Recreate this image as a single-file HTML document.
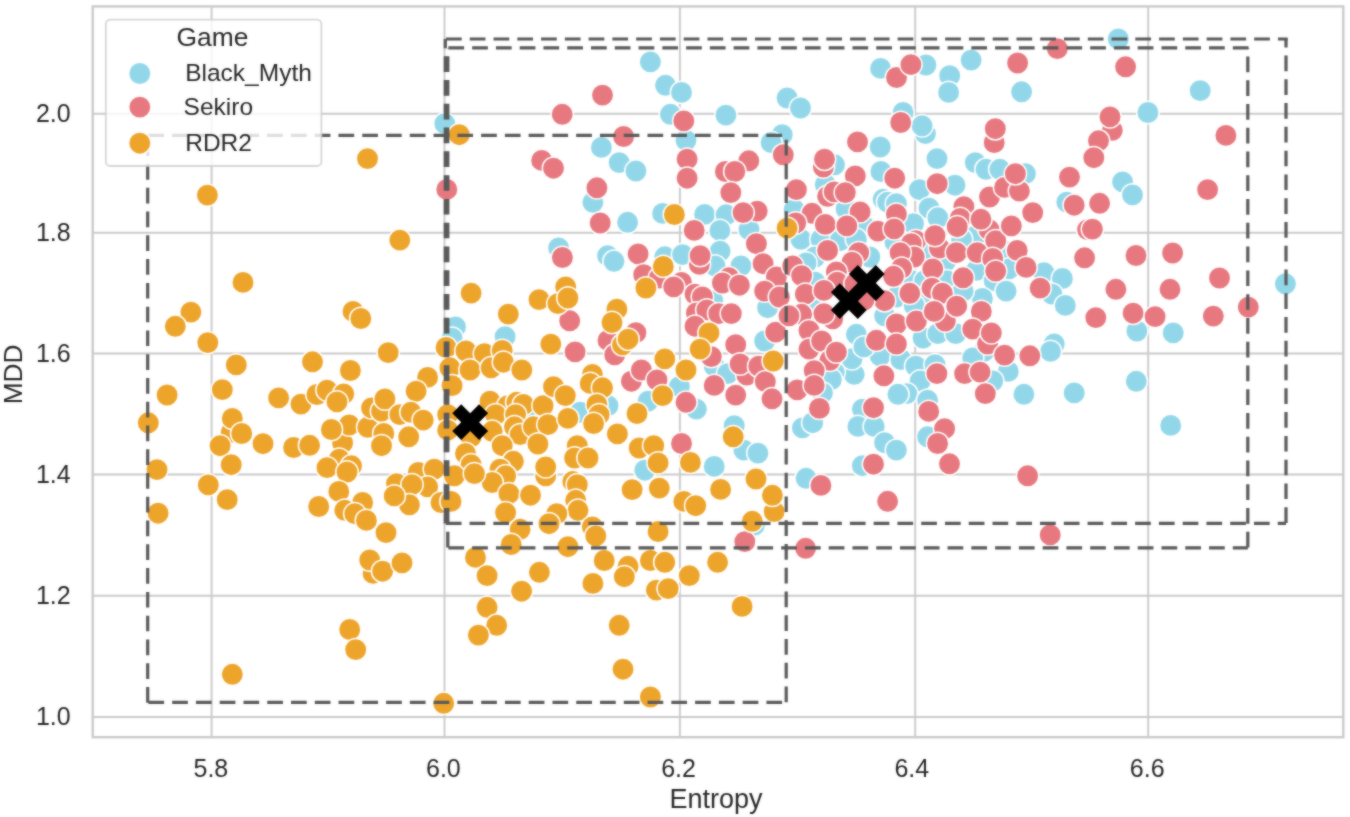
<!DOCTYPE html>
<html lang="en"><head><meta charset="utf-8"><title>Entropy vs MDD</title>
<style>html,body{margin:0;padding:0;background:#fff}svg{display:block}text{font-family:"Liberation Sans",sans-serif;fill:#262626}.p circle{stroke:#fff;stroke-width:1.5}.b{fill:#92d7e9}.r{fill:#e7787f}.o{fill:#eda42b}.d{fill:none;stroke:#595959;stroke-width:3.2;stroke-dasharray:15.7 8.07}.g line{stroke:#cacaca;stroke-width:1.9}.x{fill:#000}</style></head><body>
<svg width="1350" height="817" viewBox="0 0 1350 817">
<defs><filter id="soft" color-interpolation-filters="sRGB" x="0" y="0" width="100%" height="100%" filterUnits="objectBoundingBox"><feGaussianBlur stdDeviation="0.85" result="b"/><feComposite in="SourceGraphic" in2="b" operator="arithmetic" k1="0" k2="0.45" k3="0.55" k4="0"/></filter></defs>
<g filter="url(#soft)">
<rect width="1350" height="817" fill="#fff"/>
<g class="g">
<line x1="211.6" y1="6.4" x2="211.6" y2="737.2"/>
<line x1="444.5" y1="6.4" x2="444.5" y2="737.2"/>
<line x1="679.9" y1="6.4" x2="679.9" y2="737.2"/>
<line x1="915.2" y1="6.4" x2="915.2" y2="737.2"/>
<line x1="1148.2" y1="6.4" x2="1148.2" y2="737.2"/>
<line x1="92.7" y1="113.8" x2="1343.3" y2="113.8"/>
<line x1="92.7" y1="232.8" x2="1343.3" y2="232.8"/>
<line x1="92.7" y1="353.5" x2="1343.3" y2="353.5"/>
<line x1="92.7" y1="474.5" x2="1343.3" y2="474.5"/>
<line x1="92.7" y1="595.7" x2="1343.3" y2="595.7"/>
<line x1="92.7" y1="717.0" x2="1343.3" y2="717.0"/>
</g>
<g class="p">
<circle class="b" cx="444.8" cy="123.6" r="11.2"/>
<circle class="b" cx="650.4" cy="61.9" r="11.2"/>
<circle class="b" cx="665.5" cy="85.3" r="11.2"/>
<circle class="b" cx="681.5" cy="92.4" r="11.2"/>
<circle class="b" cx="670.4" cy="114.3" r="11.2"/>
<circle class="b" cx="601.4" cy="147.4" r="11.2"/>
<circle class="b" cx="619.2" cy="162.6" r="11.2"/>
<circle class="b" cx="635.9" cy="171.0" r="11.2"/>
<circle class="b" cx="686.0" cy="140.3" r="11.2"/>
<circle class="b" cx="592.9" cy="202.3" r="11.2"/>
<circle class="b" cx="627.6" cy="222.3" r="11.2"/>
<circle class="b" cx="662.6" cy="213.4" r="11.2"/>
<circle class="b" cx="558.6" cy="247.9" r="11.2"/>
<circle class="b" cx="607.6" cy="255.7" r="11.2"/>
<circle class="b" cx="614.0" cy="261.3" r="11.2"/>
<circle class="b" cx="664.8" cy="256.8" r="11.2"/>
<circle class="b" cx="682.6" cy="254.6" r="11.2"/>
<circle class="b" cx="455.5" cy="327.0" r="11.2"/>
<circle class="b" cx="452.1" cy="338.1" r="11.2"/>
<circle class="b" cx="505.1" cy="336.6" r="11.2"/>
<circle class="b" cx="529.0" cy="415.7" r="11.2"/>
<circle class="b" cx="580.2" cy="412.3" r="11.2"/>
<circle class="b" cx="608.0" cy="405.7" r="11.2"/>
<circle class="b" cx="648.1" cy="401.2" r="11.2"/>
<circle class="b" cx="644.8" cy="470.2" r="11.2"/>
<circle class="b" cx="679.3" cy="386.7" r="11.2"/>
<circle class="b" cx="725.9" cy="115.1" r="11.2"/>
<circle class="b" cx="787.1" cy="98.0" r="11.2"/>
<circle class="b" cx="800.5" cy="108.0" r="11.2"/>
<circle class="b" cx="880.6" cy="68.4" r="11.2"/>
<circle class="b" cx="925.9" cy="65.0" r="11.2"/>
<circle class="b" cx="949.7" cy="75.7" r="11.2"/>
<circle class="b" cx="948.6" cy="92.4" r="11.2"/>
<circle class="b" cx="971.1" cy="60.1" r="11.2"/>
<circle class="b" cx="903.1" cy="112.5" r="11.2"/>
<circle class="b" cx="925.4" cy="133.6" r="11.2"/>
<circle class="b" cx="922.1" cy="125.8" r="11.2"/>
<circle class="b" cx="880.2" cy="147.0" r="11.2"/>
<circle class="b" cx="782.2" cy="134.7" r="11.2"/>
<circle class="b" cx="771.1" cy="142.5" r="11.2"/>
<circle class="b" cx="834.5" cy="164.8" r="11.2"/>
<circle class="b" cx="880.9" cy="171.5" r="11.2"/>
<circle class="b" cx="937.0" cy="158.6" r="11.2"/>
<circle class="b" cx="975.3" cy="162.6" r="11.2"/>
<circle class="b" cx="986.0" cy="169.3" r="11.2"/>
<circle class="b" cx="704.6" cy="214.4" r="11.2"/>
<circle class="b" cx="726.1" cy="214.8" r="11.2"/>
<circle class="b" cx="719.9" cy="230.4" r="11.2"/>
<circle class="b" cx="749.0" cy="229.6" r="11.2"/>
<circle class="b" cx="720.1" cy="251.1" r="11.2"/>
<circle class="b" cx="715.0" cy="265.9" r="11.2"/>
<circle class="b" cx="740.9" cy="265.9" r="11.2"/>
<circle class="b" cx="794.2" cy="209.6" r="11.2"/>
<circle class="b" cx="800.9" cy="239.3" r="11.2"/>
<circle class="b" cx="820.9" cy="239.3" r="11.2"/>
<circle class="b" cx="810.5" cy="260.0" r="11.2"/>
<circle class="b" cx="815.0" cy="257.0" r="11.2"/>
<circle class="b" cx="806.1" cy="263.0" r="11.2"/>
<circle class="b" cx="825.3" cy="184.4" r="11.2"/>
<circle class="b" cx="846.1" cy="208.9" r="11.2"/>
<circle class="b" cx="883.1" cy="199.3" r="11.2"/>
<circle class="b" cx="887.6" cy="202.2" r="11.2"/>
<circle class="b" cx="863.9" cy="225.9" r="11.2"/>
<circle class="b" cx="840.1" cy="240.7" r="11.2"/>
<circle class="b" cx="856.4" cy="239.3" r="11.2"/>
<circle class="b" cx="869.8" cy="257.0" r="11.2"/>
<circle class="b" cx="815.0" cy="282.2" r="11.2"/>
<circle class="b" cx="712.7" cy="300.7" r="11.2"/>
<circle class="b" cx="919.4" cy="189.6" r="11.2"/>
<circle class="b" cx="955.0" cy="185.2" r="11.2"/>
<circle class="b" cx="929.0" cy="208.1" r="11.2"/>
<circle class="b" cx="937.9" cy="217.8" r="11.2"/>
<circle class="b" cx="913.5" cy="223.7" r="11.2"/>
<circle class="b" cx="896.4" cy="203.7" r="11.2"/>
<circle class="b" cx="895.0" cy="242.2" r="11.2"/>
<circle class="b" cx="975.0" cy="236.3" r="11.2"/>
<circle class="b" cx="961.6" cy="239.3" r="11.2"/>
<circle class="b" cx="927.6" cy="252.6" r="11.2"/>
<circle class="b" cx="945.3" cy="261.5" r="11.2"/>
<circle class="b" cx="976.4" cy="270.4" r="11.2"/>
<circle class="b" cx="1004.6" cy="251.1" r="11.2"/>
<circle class="b" cx="1009.0" cy="268.9" r="11.2"/>
<circle class="b" cx="994.2" cy="280.7" r="11.2"/>
<circle class="b" cx="1006.1" cy="291.1" r="11.2"/>
<circle class="b" cx="1043.9" cy="272.6" r="11.2"/>
<circle class="b" cx="1062.4" cy="278.5" r="11.2"/>
<circle class="b" cx="1052.0" cy="294.1" r="11.2"/>
<circle class="b" cx="982.4" cy="298.5" r="11.2"/>
<circle class="b" cx="911.3" cy="280.7" r="11.2"/>
<circle class="b" cx="924.6" cy="280.7" r="11.2"/>
<circle class="b" cx="946.8" cy="280.7" r="11.2"/>
<circle class="b" cx="963.1" cy="291.1" r="11.2"/>
<circle class="b" cx="1066.8" cy="202.2" r="11.2"/>
<circle class="b" cx="896.4" cy="297.0" r="11.2"/>
<circle class="b" cx="921.6" cy="298.5" r="11.2"/>
<circle class="b" cx="767.6" cy="307.7" r="11.2"/>
<circle class="b" cx="764.6" cy="341.0" r="11.2"/>
<circle class="b" cx="714.2" cy="366.2" r="11.2"/>
<circle class="b" cx="727.6" cy="373.6" r="11.2"/>
<circle class="b" cx="696.4" cy="409.1" r="11.2"/>
<circle class="b" cx="856.4" cy="334.3" r="11.2"/>
<circle class="b" cx="854.2" cy="374.3" r="11.2"/>
<circle class="b" cx="834.2" cy="372.1" r="11.2"/>
<circle class="b" cx="831.3" cy="379.5" r="11.2"/>
<circle class="b" cx="852.0" cy="358.8" r="11.2"/>
<circle class="b" cx="880.1" cy="355.8" r="11.2"/>
<circle class="b" cx="863.9" cy="346.9" r="11.2"/>
<circle class="b" cx="884.6" cy="315.8" r="11.2"/>
<circle class="b" cx="822.4" cy="392.9" r="11.2"/>
<circle class="b" cx="862.4" cy="409.1" r="11.2"/>
<circle class="b" cx="813.5" cy="309.9" r="11.2"/>
<circle class="b" cx="1065.3" cy="305.4" r="11.2"/>
<circle class="b" cx="914.2" cy="305.4" r="11.2"/>
<circle class="b" cx="923.1" cy="338.0" r="11.2"/>
<circle class="b" cx="937.9" cy="333.6" r="11.2"/>
<circle class="b" cx="955.7" cy="333.6" r="11.2"/>
<circle class="b" cx="900.9" cy="359.5" r="11.2"/>
<circle class="b" cx="915.7" cy="366.2" r="11.2"/>
<circle class="b" cx="935.0" cy="364.7" r="11.2"/>
<circle class="b" cx="920.1" cy="381.0" r="11.2"/>
<circle class="b" cx="906.8" cy="393.6" r="11.2"/>
<circle class="b" cx="897.9" cy="394.3" r="11.2"/>
<circle class="b" cx="927.6" cy="400.3" r="11.2"/>
<circle class="b" cx="983.9" cy="351.4" r="11.2"/>
<circle class="b" cx="972.7" cy="358.0" r="11.2"/>
<circle class="b" cx="1008.3" cy="371.4" r="11.2"/>
<circle class="b" cx="1054.2" cy="344.0" r="11.2"/>
<circle class="b" cx="1050.5" cy="351.4" r="11.2"/>
<circle class="b" cx="1023.9" cy="394.3" r="11.2"/>
<circle class="b" cx="1074.2" cy="392.9" r="11.2"/>
<circle class="b" cx="992.7" cy="381.0" r="11.2"/>
<circle class="b" cx="734.2" cy="425.7" r="11.2"/>
<circle class="b" cx="743.9" cy="450.1" r="11.2"/>
<circle class="b" cx="757.9" cy="453.1" r="11.2"/>
<circle class="b" cx="714.2" cy="466.4" r="11.2"/>
<circle class="b" cx="802.4" cy="427.9" r="11.2"/>
<circle class="b" cx="812.7" cy="422.7" r="11.2"/>
<circle class="b" cx="857.9" cy="426.4" r="11.2"/>
<circle class="b" cx="874.2" cy="426.4" r="11.2"/>
<circle class="b" cx="884.6" cy="442.7" r="11.2"/>
<circle class="b" cx="862.4" cy="465.7" r="11.2"/>
<circle class="b" cx="806.1" cy="478.3" r="11.2"/>
<circle class="b" cx="754.2" cy="525.4" r="11.2"/>
<circle class="b" cx="896.4" cy="450.1" r="11.2"/>
<circle class="b" cx="927.6" cy="436.8" r="11.2"/>
<circle class="b" cx="1118.3" cy="39.0" r="11.2"/>
<circle class="b" cx="1021.6" cy="91.8" r="11.2"/>
<circle class="b" cx="1200.2" cy="90.6" r="11.2"/>
<circle class="b" cx="1147.9" cy="112.5" r="11.2"/>
<circle class="b" cx="999.8" cy="169.3" r="11.2"/>
<circle class="b" cx="1025.4" cy="173.7" r="11.2"/>
<circle class="b" cx="1122.6" cy="181.9" r="11.2"/>
<circle class="b" cx="1132.5" cy="194.9" r="11.2"/>
<circle class="b" cx="1285.4" cy="283.8" r="11.2"/>
<circle class="b" cx="1136.9" cy="331.0" r="11.2"/>
<circle class="b" cx="1173.2" cy="332.9" r="11.2"/>
<circle class="b" cx="1136.3" cy="381.3" r="11.2"/>
<circle class="b" cx="1170.7" cy="425.4" r="11.2"/>
<circle class="r" cx="562.2" cy="114.3" r="11.2"/>
<circle class="r" cx="602.5" cy="95.1" r="11.2"/>
<circle class="r" cx="683.8" cy="120.9" r="11.2"/>
<circle class="r" cx="623.6" cy="136.5" r="11.2"/>
<circle class="r" cx="541.7" cy="160.4" r="11.2"/>
<circle class="r" cx="553.5" cy="168.2" r="11.2"/>
<circle class="r" cx="687.1" cy="159.2" r="11.2"/>
<circle class="r" cx="687.1" cy="178.2" r="11.2"/>
<circle class="r" cx="446.8" cy="189.4" r="11.2"/>
<circle class="r" cx="596.9" cy="187.8" r="11.2"/>
<circle class="r" cx="600.2" cy="223.0" r="11.2"/>
<circle class="r" cx="562.4" cy="257.5" r="11.2"/>
<circle class="r" cx="638.1" cy="253.9" r="11.2"/>
<circle class="r" cx="643.7" cy="274.7" r="11.2"/>
<circle class="r" cx="659.3" cy="278.0" r="11.2"/>
<circle class="r" cx="681.5" cy="282.4" r="11.2"/>
<circle class="r" cx="673.7" cy="286.9" r="11.2"/>
<circle class="r" cx="569.7" cy="320.8" r="11.2"/>
<circle class="r" cx="635.9" cy="332.6" r="11.2"/>
<circle class="r" cx="608.0" cy="340.4" r="11.2"/>
<circle class="r" cx="614.7" cy="354.8" r="11.2"/>
<circle class="r" cx="575.1" cy="351.9" r="11.2"/>
<circle class="r" cx="631.4" cy="381.2" r="11.2"/>
<circle class="r" cx="641.4" cy="370.0" r="11.2"/>
<circle class="r" cx="657.0" cy="380.0" r="11.2"/>
<circle class="r" cx="686.0" cy="402.3" r="11.2"/>
<circle class="r" cx="681.5" cy="443.5" r="11.2"/>
<circle class="r" cx="896.5" cy="77.5" r="11.2"/>
<circle class="r" cx="910.9" cy="64.6" r="11.2"/>
<circle class="r" cx="900.7" cy="122.5" r="11.2"/>
<circle class="r" cx="857.5" cy="141.9" r="11.2"/>
<circle class="r" cx="783.3" cy="154.8" r="11.2"/>
<circle class="r" cx="748.8" cy="160.8" r="11.2"/>
<circle class="r" cx="725.4" cy="171.5" r="11.2"/>
<circle class="r" cx="734.8" cy="171.5" r="11.2"/>
<circle class="r" cx="823.4" cy="167.0" r="11.2"/>
<circle class="r" cx="824.5" cy="159.2" r="11.2"/>
<circle class="r" cx="855.3" cy="175.9" r="11.2"/>
<circle class="r" cx="894.7" cy="178.2" r="11.2"/>
<circle class="r" cx="730.8" cy="192.6" r="11.2"/>
<circle class="r" cx="757.2" cy="211.1" r="11.2"/>
<circle class="r" cx="743.1" cy="212.6" r="11.2"/>
<circle class="r" cx="694.2" cy="230.4" r="11.2"/>
<circle class="r" cx="756.4" cy="243.7" r="11.2"/>
<circle class="r" cx="699.4" cy="264.4" r="11.2"/>
<circle class="r" cx="700.1" cy="255.6" r="11.2"/>
<circle class="r" cx="763.1" cy="263.7" r="11.2"/>
<circle class="r" cx="776.4" cy="277.0" r="11.2"/>
<circle class="r" cx="729.0" cy="277.8" r="11.2"/>
<circle class="r" cx="722.4" cy="283.0" r="11.2"/>
<circle class="r" cx="739.4" cy="285.2" r="11.2"/>
<circle class="r" cx="695.0" cy="294.1" r="11.2"/>
<circle class="r" cx="702.4" cy="297.0" r="11.2"/>
<circle class="r" cx="764.6" cy="291.1" r="11.2"/>
<circle class="r" cx="779.4" cy="297.0" r="11.2"/>
<circle class="r" cx="796.4" cy="189.6" r="11.2"/>
<circle class="r" cx="812.0" cy="213.3" r="11.2"/>
<circle class="r" cx="795.7" cy="223.0" r="11.2"/>
<circle class="r" cx="825.3" cy="224.4" r="11.2"/>
<circle class="r" cx="827.6" cy="196.3" r="11.2"/>
<circle class="r" cx="834.2" cy="191.9" r="11.2"/>
<circle class="r" cx="845.3" cy="192.6" r="11.2"/>
<circle class="r" cx="860.1" cy="211.9" r="11.2"/>
<circle class="r" cx="846.8" cy="225.9" r="11.2"/>
<circle class="r" cx="877.9" cy="231.1" r="11.2"/>
<circle class="r" cx="827.6" cy="250.4" r="11.2"/>
<circle class="r" cx="858.7" cy="252.6" r="11.2"/>
<circle class="r" cx="852.0" cy="262.2" r="11.2"/>
<circle class="r" cx="792.7" cy="265.9" r="11.2"/>
<circle class="r" cx="801.6" cy="275.6" r="11.2"/>
<circle class="r" cx="836.4" cy="271.9" r="11.2"/>
<circle class="r" cx="837.2" cy="282.2" r="11.2"/>
<circle class="r" cx="805.3" cy="294.1" r="11.2"/>
<circle class="r" cx="823.9" cy="290.4" r="11.2"/>
<circle class="r" cx="884.6" cy="300.7" r="11.2"/>
<circle class="r" cx="855.0" cy="283.7" r="11.2"/>
<circle class="r" cx="937.2" cy="183.7" r="11.2"/>
<circle class="r" cx="963.9" cy="206.7" r="11.2"/>
<circle class="r" cx="960.1" cy="218.5" r="11.2"/>
<circle class="r" cx="957.2" cy="226.7" r="11.2"/>
<circle class="r" cx="989.0" cy="229.6" r="11.2"/>
<circle class="r" cx="995.7" cy="240.7" r="11.2"/>
<circle class="r" cx="980.9" cy="219.3" r="11.2"/>
<circle class="r" cx="1011.3" cy="225.9" r="11.2"/>
<circle class="r" cx="1032.7" cy="212.6" r="11.2"/>
<circle class="r" cx="989.5" cy="197.0" r="11.2"/>
<circle class="r" cx="1004.6" cy="187.4" r="11.2"/>
<circle class="r" cx="1019.4" cy="191.1" r="11.2"/>
<circle class="r" cx="1074.2" cy="205.2" r="11.2"/>
<circle class="r" cx="1087.6" cy="229.6" r="11.2"/>
<circle class="r" cx="1084.6" cy="257.8" r="11.2"/>
<circle class="r" cx="896.4" cy="214.1" r="11.2"/>
<circle class="r" cx="894.2" cy="228.9" r="11.2"/>
<circle class="r" cx="915.7" cy="240.7" r="11.2"/>
<circle class="r" cx="911.3" cy="243.7" r="11.2"/>
<circle class="r" cx="939.4" cy="248.1" r="11.2"/>
<circle class="r" cx="935.0" cy="235.6" r="11.2"/>
<circle class="r" cx="914.2" cy="257.0" r="11.2"/>
<circle class="r" cx="900.1" cy="252.6" r="11.2"/>
<circle class="r" cx="901.6" cy="268.1" r="11.2"/>
<circle class="r" cx="893.5" cy="276.3" r="11.2"/>
<circle class="r" cx="956.4" cy="252.6" r="11.2"/>
<circle class="r" cx="977.2" cy="252.6" r="11.2"/>
<circle class="r" cx="1017.2" cy="250.4" r="11.2"/>
<circle class="r" cx="1026.1" cy="267.4" r="11.2"/>
<circle class="r" cx="992.7" cy="258.5" r="11.2"/>
<circle class="r" cx="995.7" cy="271.1" r="11.2"/>
<circle class="r" cx="932.7" cy="268.9" r="11.2"/>
<circle class="r" cx="963.1" cy="277.8" r="11.2"/>
<circle class="r" cx="1040.1" cy="288.1" r="11.2"/>
<circle class="r" cx="909.8" cy="293.3" r="11.2"/>
<circle class="r" cx="932.0" cy="288.1" r="11.2"/>
<circle class="r" cx="942.4" cy="293.3" r="11.2"/>
<circle class="r" cx="696.4" cy="312.9" r="11.2"/>
<circle class="r" cx="706.8" cy="309.9" r="11.2"/>
<circle class="r" cx="718.7" cy="313.6" r="11.2"/>
<circle class="r" cx="731.3" cy="313.6" r="11.2"/>
<circle class="r" cx="695.0" cy="326.2" r="11.2"/>
<circle class="r" cx="735.7" cy="344.7" r="11.2"/>
<circle class="r" cx="711.3" cy="356.6" r="11.2"/>
<circle class="r" cx="746.8" cy="375.1" r="11.2"/>
<circle class="r" cx="740.1" cy="364.0" r="11.2"/>
<circle class="r" cx="758.7" cy="366.2" r="11.2"/>
<circle class="r" cx="765.3" cy="381.7" r="11.2"/>
<circle class="r" cx="714.2" cy="385.4" r="11.2"/>
<circle class="r" cx="735.7" cy="395.1" r="11.2"/>
<circle class="r" cx="772.0" cy="398.8" r="11.2"/>
<circle class="r" cx="775.7" cy="332.1" r="11.2"/>
<circle class="r" cx="801.6" cy="314.3" r="11.2"/>
<circle class="r" cx="789.0" cy="315.8" r="11.2"/>
<circle class="r" cx="832.7" cy="318.8" r="11.2"/>
<circle class="r" cx="823.9" cy="313.6" r="11.2"/>
<circle class="r" cx="809.0" cy="330.6" r="11.2"/>
<circle class="r" cx="809.0" cy="349.1" r="11.2"/>
<circle class="r" cx="821.6" cy="341.0" r="11.2"/>
<circle class="r" cx="829.8" cy="360.3" r="11.2"/>
<circle class="r" cx="836.4" cy="352.1" r="11.2"/>
<circle class="r" cx="814.2" cy="370.6" r="11.2"/>
<circle class="r" cx="797.2" cy="389.9" r="11.2"/>
<circle class="r" cx="814.2" cy="385.4" r="11.2"/>
<circle class="r" cx="819.4" cy="408.4" r="11.2"/>
<circle class="r" cx="876.4" cy="340.3" r="11.2"/>
<circle class="r" cx="883.9" cy="375.8" r="11.2"/>
<circle class="r" cx="873.5" cy="407.7" r="11.2"/>
<circle class="r" cx="896.4" cy="324.0" r="11.2"/>
<circle class="r" cx="916.4" cy="321.0" r="11.2"/>
<circle class="r" cx="945.3" cy="321.0" r="11.2"/>
<circle class="r" cx="934.2" cy="311.4" r="11.2"/>
<circle class="r" cx="956.7" cy="306.2" r="11.2"/>
<circle class="r" cx="981.3" cy="311.4" r="11.2"/>
<circle class="r" cx="972.7" cy="329.1" r="11.2"/>
<circle class="r" cx="987.6" cy="344.0" r="11.2"/>
<circle class="r" cx="991.3" cy="332.9" r="11.2"/>
<circle class="r" cx="1004.6" cy="355.1" r="11.2"/>
<circle class="r" cx="1029.8" cy="355.8" r="11.2"/>
<circle class="r" cx="896.4" cy="344.0" r="11.2"/>
<circle class="r" cx="936.9" cy="373.6" r="11.2"/>
<circle class="r" cx="964.6" cy="373.6" r="11.2"/>
<circle class="r" cx="980.1" cy="372.1" r="11.2"/>
<circle class="r" cx="985.3" cy="393.6" r="11.2"/>
<circle class="r" cx="928.7" cy="411.4" r="11.2"/>
<circle class="r" cx="873.5" cy="464.2" r="11.2"/>
<circle class="r" cx="820.9" cy="485.4" r="11.2"/>
<circle class="r" cx="887.6" cy="501.3" r="11.2"/>
<circle class="r" cx="944.6" cy="428.7" r="11.2"/>
<circle class="r" cx="937.6" cy="443.5" r="11.2"/>
<circle class="r" cx="949.5" cy="463.8" r="11.2"/>
<circle class="r" cx="1027.6" cy="475.8" r="11.2"/>
<circle class="r" cx="1050.2" cy="534.9" r="11.2"/>
<circle class="r" cx="1017.6" cy="63.0" r="11.2"/>
<circle class="r" cx="1057.3" cy="48.6" r="11.2"/>
<circle class="r" cx="1125.6" cy="66.8" r="11.2"/>
<circle class="r" cx="1112.3" cy="130.3" r="11.2"/>
<circle class="r" cx="1110.0" cy="116.9" r="11.2"/>
<circle class="r" cx="1098.5" cy="140.8" r="11.2"/>
<circle class="r" cx="1093.8" cy="157.7" r="11.2"/>
<circle class="r" cx="1225.9" cy="135.4" r="11.2"/>
<circle class="r" cx="994.2" cy="142.5" r="11.2"/>
<circle class="r" cx="995.3" cy="128.7" r="11.2"/>
<circle class="r" cx="1015.4" cy="173.7" r="11.2"/>
<circle class="r" cx="1069.5" cy="177.1" r="11.2"/>
<circle class="r" cx="1207.6" cy="189.6" r="11.2"/>
<circle class="r" cx="1099.6" cy="203.3" r="11.2"/>
<circle class="r" cx="1136.0" cy="255.5" r="11.2"/>
<circle class="r" cx="1172.6" cy="253.0" r="11.2"/>
<circle class="r" cx="1219.5" cy="278.0" r="11.2"/>
<circle class="r" cx="1115.9" cy="289.3" r="11.2"/>
<circle class="r" cx="1170.0" cy="289.3" r="11.2"/>
<circle class="r" cx="1133.1" cy="313.2" r="11.2"/>
<circle class="r" cx="1155.1" cy="316.6" r="11.2"/>
<circle class="r" cx="1095.8" cy="317.6" r="11.2"/>
<circle class="r" cx="1213.3" cy="316.1" r="11.2"/>
<circle class="r" cx="1248.3" cy="307.1" r="11.2"/>
<circle class="r" cx="1092.4" cy="229.1" r="11.2"/>
<circle class="r" cx="744.8" cy="541.6" r="11.2"/>
<circle class="r" cx="863.9" cy="300.2" r="11.2"/>
<circle class="r" cx="805.6" cy="548.3" r="11.2"/>
<circle class="o" cx="367.5" cy="158.6" r="11.2"/>
<circle class="o" cx="207.4" cy="195.1" r="11.2"/>
<circle class="o" cx="243.0" cy="282.4" r="11.2"/>
<circle class="o" cx="190.9" cy="312.1" r="11.2"/>
<circle class="o" cx="175.3" cy="326.3" r="11.2"/>
<circle class="o" cx="207.8" cy="342.6" r="11.2"/>
<circle class="o" cx="353.0" cy="311.4" r="11.2"/>
<circle class="o" cx="360.8" cy="318.5" r="11.2"/>
<circle class="o" cx="388.2" cy="352.6" r="11.2"/>
<circle class="o" cx="236.3" cy="364.9" r="11.2"/>
<circle class="o" cx="312.5" cy="361.8" r="11.2"/>
<circle class="o" cx="350.4" cy="370.5" r="11.2"/>
<circle class="o" cx="167.1" cy="395.0" r="11.2"/>
<circle class="o" cx="222.3" cy="389.6" r="11.2"/>
<circle class="o" cx="278.6" cy="397.9" r="11.2"/>
<circle class="o" cx="300.9" cy="404.1" r="11.2"/>
<circle class="o" cx="316.9" cy="394.5" r="11.2"/>
<circle class="o" cx="327.0" cy="390.1" r="11.2"/>
<circle class="o" cx="343.7" cy="393.9" r="11.2"/>
<circle class="o" cx="337.0" cy="401.9" r="11.2"/>
<circle class="o" cx="148.3" cy="422.8" r="11.2"/>
<circle class="o" cx="231.2" cy="432.4" r="11.2"/>
<circle class="o" cx="232.3" cy="418.4" r="11.2"/>
<circle class="o" cx="241.7" cy="433.5" r="11.2"/>
<circle class="o" cx="220.1" cy="445.7" r="11.2"/>
<circle class="o" cx="263.0" cy="443.7" r="11.2"/>
<circle class="o" cx="293.6" cy="447.5" r="11.2"/>
<circle class="o" cx="309.6" cy="445.3" r="11.2"/>
<circle class="o" cx="342.6" cy="442.9" r="11.2"/>
<circle class="o" cx="349.2" cy="425.0" r="11.2"/>
<circle class="o" cx="331.4" cy="429.5" r="11.2"/>
<circle class="o" cx="367.7" cy="427.3" r="11.2"/>
<circle class="o" cx="371.5" cy="407.9" r="11.2"/>
<circle class="o" cx="381.5" cy="411.2" r="11.2"/>
<circle class="o" cx="384.9" cy="399.0" r="11.2"/>
<circle class="o" cx="383.8" cy="433.5" r="11.2"/>
<circle class="o" cx="381.5" cy="445.7" r="11.2"/>
<circle class="o" cx="231.2" cy="464.7" r="11.2"/>
<circle class="o" cx="157.0" cy="469.6" r="11.2"/>
<circle class="o" cx="339.2" cy="459.1" r="11.2"/>
<circle class="o" cx="351.5" cy="465.8" r="11.2"/>
<circle class="o" cx="327.0" cy="467.6" r="11.2"/>
<circle class="o" cx="347.0" cy="472.0" r="11.2"/>
<circle class="o" cx="208.3" cy="484.9" r="11.2"/>
<circle class="o" cx="227.2" cy="499.6" r="11.2"/>
<circle class="o" cx="158.1" cy="513.2" r="11.2"/>
<circle class="o" cx="318.7" cy="506.5" r="11.2"/>
<circle class="o" cx="362.6" cy="502.5" r="11.2"/>
<circle class="o" cx="338.8" cy="491.4" r="11.2"/>
<circle class="o" cx="344.8" cy="510.3" r="11.2"/>
<circle class="o" cx="354.8" cy="513.7" r="11.2"/>
<circle class="o" cx="366.4" cy="520.4" r="11.2"/>
<circle class="o" cx="386.0" cy="532.6" r="11.2"/>
<circle class="o" cx="232.3" cy="674.3" r="11.2"/>
<circle class="o" cx="349.7" cy="629.5" r="11.2"/>
<circle class="o" cx="355.7" cy="649.6" r="11.2"/>
<circle class="o" cx="373.1" cy="573.4" r="11.2"/>
<circle class="o" cx="369.7" cy="560.0" r="11.2"/>
<circle class="o" cx="382.6" cy="571.2" r="11.2"/>
<circle class="o" cx="459.3" cy="134.7" r="11.2"/>
<circle class="o" cx="674.4" cy="214.5" r="11.2"/>
<circle class="o" cx="399.8" cy="240.1" r="11.2"/>
<circle class="o" cx="663.3" cy="266.4" r="11.2"/>
<circle class="o" cx="645.9" cy="288.0" r="11.2"/>
<circle class="o" cx="471.1" cy="293.1" r="11.2"/>
<circle class="o" cx="539.0" cy="299.6" r="11.2"/>
<circle class="o" cx="565.7" cy="286.9" r="11.2"/>
<circle class="o" cx="557.9" cy="303.6" r="11.2"/>
<circle class="o" cx="567.9" cy="298.0" r="11.2"/>
<circle class="o" cx="508.3" cy="314.1" r="11.2"/>
<circle class="o" cx="616.9" cy="309.2" r="11.2"/>
<circle class="o" cx="612.0" cy="322.5" r="11.2"/>
<circle class="o" cx="622.5" cy="344.8" r="11.2"/>
<circle class="o" cx="628.1" cy="339.2" r="11.2"/>
<circle class="o" cx="446.1" cy="347.5" r="11.2"/>
<circle class="o" cx="465.9" cy="351.0" r="11.2"/>
<circle class="o" cx="484.4" cy="353.7" r="11.2"/>
<circle class="o" cx="502.2" cy="350.4" r="11.2"/>
<circle class="o" cx="550.8" cy="344.1" r="11.2"/>
<circle class="o" cx="449.9" cy="367.8" r="11.2"/>
<circle class="o" cx="470.0" cy="370.0" r="11.2"/>
<circle class="o" cx="491.1" cy="367.8" r="11.2"/>
<circle class="o" cx="503.4" cy="362.2" r="11.2"/>
<circle class="o" cx="521.8" cy="370.0" r="11.2"/>
<circle class="o" cx="427.6" cy="377.4" r="11.2"/>
<circle class="o" cx="416.1" cy="391.2" r="11.2"/>
<circle class="o" cx="452.1" cy="385.6" r="11.2"/>
<circle class="o" cx="399.8" cy="414.6" r="11.2"/>
<circle class="o" cx="410.9" cy="412.3" r="11.2"/>
<circle class="o" cx="423.2" cy="420.1" r="11.2"/>
<circle class="o" cx="408.7" cy="436.8" r="11.2"/>
<circle class="o" cx="490.0" cy="401.2" r="11.2"/>
<circle class="o" cx="507.8" cy="405.7" r="11.2"/>
<circle class="o" cx="516.7" cy="402.3" r="11.2"/>
<circle class="o" cx="523.4" cy="404.5" r="11.2"/>
<circle class="o" cx="495.6" cy="414.6" r="11.2"/>
<circle class="o" cx="515.6" cy="414.6" r="11.2"/>
<circle class="o" cx="492.2" cy="431.3" r="11.2"/>
<circle class="o" cx="514.5" cy="426.8" r="11.2"/>
<circle class="o" cx="520.1" cy="434.6" r="11.2"/>
<circle class="o" cx="533.4" cy="426.8" r="11.2"/>
<circle class="o" cx="447.7" cy="414.6" r="11.2"/>
<circle class="o" cx="447.7" cy="430.2" r="11.2"/>
<circle class="o" cx="471.1" cy="436.8" r="11.2"/>
<circle class="o" cx="543.0" cy="405.7" r="11.2"/>
<circle class="o" cx="553.5" cy="386.7" r="11.2"/>
<circle class="o" cx="565.3" cy="395.6" r="11.2"/>
<circle class="o" cx="547.9" cy="424.6" r="11.2"/>
<circle class="o" cx="567.9" cy="418.4" r="11.2"/>
<circle class="o" cx="537.9" cy="444.0" r="11.2"/>
<circle class="o" cx="592.4" cy="374.5" r="11.2"/>
<circle class="o" cx="590.2" cy="383.4" r="11.2"/>
<circle class="o" cx="602.5" cy="387.8" r="11.2"/>
<circle class="o" cx="596.9" cy="404.5" r="11.2"/>
<circle class="o" cx="599.1" cy="414.6" r="11.2"/>
<circle class="o" cx="593.6" cy="423.5" r="11.2"/>
<circle class="o" cx="617.4" cy="433.9" r="11.2"/>
<circle class="o" cx="637.0" cy="413.5" r="11.2"/>
<circle class="o" cx="664.8" cy="358.9" r="11.2"/>
<circle class="o" cx="686.0" cy="370.0" r="11.2"/>
<circle class="o" cx="662.6" cy="395.6" r="11.2"/>
<circle class="o" cx="639.2" cy="448.0" r="11.2"/>
<circle class="o" cx="653.7" cy="445.7" r="11.2"/>
<circle class="o" cx="658.1" cy="462.9" r="11.2"/>
<circle class="o" cx="690.4" cy="462.4" r="11.2"/>
<circle class="o" cx="502.2" cy="445.7" r="11.2"/>
<circle class="o" cx="465.5" cy="453.5" r="11.2"/>
<circle class="o" cx="471.1" cy="464.7" r="11.2"/>
<circle class="o" cx="513.4" cy="461.3" r="11.2"/>
<circle class="o" cx="500.0" cy="469.1" r="11.2"/>
<circle class="o" cx="505.6" cy="475.8" r="11.2"/>
<circle class="o" cx="492.2" cy="482.5" r="11.2"/>
<circle class="o" cx="454.4" cy="475.8" r="11.2"/>
<circle class="o" cx="474.4" cy="473.6" r="11.2"/>
<circle class="o" cx="577.3" cy="445.7" r="11.2"/>
<circle class="o" cx="574.6" cy="458.0" r="11.2"/>
<circle class="o" cx="588.0" cy="458.0" r="11.2"/>
<circle class="o" cx="545.7" cy="475.8" r="11.2"/>
<circle class="o" cx="545.7" cy="466.9" r="11.2"/>
<circle class="o" cx="418.3" cy="472.5" r="11.2"/>
<circle class="o" cx="434.3" cy="469.1" r="11.2"/>
<circle class="o" cx="427.6" cy="486.9" r="11.2"/>
<circle class="o" cx="396.5" cy="483.6" r="11.2"/>
<circle class="o" cx="412.0" cy="484.7" r="11.2"/>
<circle class="o" cx="409.4" cy="504.8" r="11.2"/>
<circle class="o" cx="394.2" cy="495.9" r="11.2"/>
<circle class="o" cx="441.0" cy="502.5" r="11.2"/>
<circle class="o" cx="451.0" cy="501.4" r="11.2"/>
<circle class="o" cx="508.9" cy="493.6" r="11.2"/>
<circle class="o" cx="530.5" cy="495.2" r="11.2"/>
<circle class="o" cx="505.6" cy="512.6" r="11.2"/>
<circle class="o" cx="572.8" cy="481.4" r="11.2"/>
<circle class="o" cx="577.3" cy="484.7" r="11.2"/>
<circle class="o" cx="575.7" cy="500.3" r="11.2"/>
<circle class="o" cx="578.0" cy="510.3" r="11.2"/>
<circle class="o" cx="556.8" cy="513.7" r="11.2"/>
<circle class="o" cx="549.0" cy="523.7" r="11.2"/>
<circle class="o" cx="520.1" cy="529.3" r="11.2"/>
<circle class="o" cx="632.1" cy="489.6" r="11.2"/>
<circle class="o" cx="659.3" cy="488.1" r="11.2"/>
<circle class="o" cx="683.8" cy="501.4" r="11.2"/>
<circle class="o" cx="592.4" cy="527.0" r="11.2"/>
<circle class="o" cx="595.8" cy="535.9" r="11.2"/>
<circle class="o" cx="658.1" cy="531.5" r="11.2"/>
<circle class="o" cx="402.0" cy="562.9" r="11.2"/>
<circle class="o" cx="475.5" cy="557.4" r="11.2"/>
<circle class="o" cx="487.1" cy="575.6" r="11.2"/>
<circle class="o" cx="511.2" cy="544.5" r="11.2"/>
<circle class="o" cx="567.9" cy="546.7" r="11.2"/>
<circle class="o" cx="539.4" cy="572.3" r="11.2"/>
<circle class="o" cx="521.6" cy="591.2" r="11.2"/>
<circle class="o" cx="604.2" cy="560.5" r="11.2"/>
<circle class="o" cx="592.9" cy="583.4" r="11.2"/>
<circle class="o" cx="628.1" cy="566.3" r="11.2"/>
<circle class="o" cx="624.3" cy="576.7" r="11.2"/>
<circle class="o" cx="650.4" cy="560.5" r="11.2"/>
<circle class="o" cx="664.8" cy="562.3" r="11.2"/>
<circle class="o" cx="656.4" cy="590.1" r="11.2"/>
<circle class="o" cx="668.2" cy="588.6" r="11.2"/>
<circle class="o" cx="689.3" cy="575.6" r="11.2"/>
<circle class="o" cx="487.1" cy="607.3" r="11.2"/>
<circle class="o" cx="496.7" cy="625.3" r="11.2"/>
<circle class="o" cx="478.4" cy="635.1" r="11.2"/>
<circle class="o" cx="619.2" cy="625.3" r="11.2"/>
<circle class="o" cx="623.0" cy="669.2" r="11.2"/>
<circle class="o" cx="650.4" cy="697.0" r="11.2"/>
<circle class="o" cx="443.7" cy="703.3" r="11.2"/>
<circle class="o" cx="787.1" cy="228.1" r="11.2"/>
<circle class="o" cx="709.0" cy="332.9" r="11.2"/>
<circle class="o" cx="700.1" cy="349.1" r="11.2"/>
<circle class="o" cx="773.2" cy="361.0" r="11.2"/>
<circle class="o" cx="733.2" cy="436.8" r="11.2"/>
<circle class="o" cx="756.0" cy="479.0" r="11.2"/>
<circle class="o" cx="720.6" cy="489.4" r="11.2"/>
<circle class="o" cx="695.7" cy="505.7" r="11.2"/>
<circle class="o" cx="774.2" cy="511.6" r="11.2"/>
<circle class="o" cx="772.4" cy="495.3" r="11.2"/>
<circle class="o" cx="752.3" cy="521.3" r="11.2"/>
<circle class="o" cx="717.6" cy="562.3" r="11.2"/>
<circle class="o" cx="742.1" cy="606.4" r="11.2"/>
</g>
<line class="d" x1="147.7" y1="702.4" x2="786.2" y2="702.4" stroke-dashoffset="23.07"/>
<line class="d" x1="147.7" y1="135.3" x2="147.7" y2="704.1" stroke-dashoffset="18.81"/>
<line class="d" x1="147.7" y1="135.3" x2="786.2" y2="135.3" stroke-dashoffset="23.15"/>
<line class="d" x1="786.2" y1="135.3" x2="786.2" y2="704.1" stroke-dashoffset="19.21"/>
<line class="d" x1="443.6" y1="39.0" x2="1287.7" y2="39.0" stroke-dashoffset="21.37"/>
<line class="d" x1="1286.0" y1="39.0" x2="1286.0" y2="523.4" stroke-dashoffset="7.21"/>
<line class="d" x1="445.3" y1="523.4" x2="1286.0" y2="523.4" stroke-dashoffset="23.27"/>
<line class="d" x1="445.3" y1="39.0" x2="445.3" y2="523.4" stroke-dashoffset="6.49"/>
<line class="d" x1="446.1" y1="47.9" x2="1249.5" y2="47.9" stroke-dashoffset="21.47"/>
<line class="d" x1="1247.8" y1="47.9" x2="1247.8" y2="547.8" stroke-dashoffset="15.21"/>
<line class="d" x1="447.8" y1="547.8" x2="1247.8" y2="547.8" stroke-dashoffset="23.17"/>
<line class="d" x1="447.8" y1="47.9" x2="447.8" y2="547.8" stroke-dashoffset="15.39"/>
<polygon class="x" points="461.2,404.3 470.2,413.2 479.1,404.3 488.1,413.2 479.1,422.2 488.1,431.1 479.1,440.1 470.2,431.1 461.2,440.1 452.3,431.1 461.2,422.2 452.3,413.2"/>
<polygon class="x" points="839.8,283.2 848.8,292.2 857.8,283.2 866.7,292.2 857.8,301.1 866.7,310.1 857.8,319.0 848.8,310.1 839.8,319.0 830.9,310.1 839.8,301.1 830.9,292.2"/>
<polygon class="x" points="857.8,265.1 866.8,274.1 875.8,265.1 884.7,274.1 875.8,283.0 884.7,291.9 875.8,300.9 866.8,291.9 857.8,300.9 848.9,291.9 857.8,283.0 848.9,274.1"/>
<rect x="92.7" y="6.4" width="1250.6" height="730.8" fill="none" stroke="#cacaca" stroke-width="2.4"/>
<rect x="105.8" y="19.6" width="215.6" height="146.4" rx="4.5" fill="#fff" fill-opacity="0.8" stroke="#ccc" stroke-opacity="0.8" stroke-width="1.8"/>
<text x="212.4" y="45.8" font-size="26.4" text-anchor="middle">Game</text>
<circle class="b" cx="139.8" cy="73.5" r="11.2" stroke="#fff" stroke-width="1.5"/>
<text x="185.2" y="81.1" font-size="24.5">Black_Myth</text>
<circle class="r" cx="139.8" cy="107.1" r="11.2" stroke="#fff" stroke-width="1.5"/>
<text x="183.6" y="114.7" font-size="24.5">Sekiro</text>
<circle class="o" cx="139.8" cy="143.2" r="11.2" stroke="#fff" stroke-width="1.5"/>
<text x="185.2" y="150.8" font-size="24.5">RDR2</text>
<text x="210.9" y="776.5" font-size="25" text-anchor="middle">5.8</text>
<text x="443.4" y="776.5" font-size="25" text-anchor="middle">6.0</text>
<text x="678.6" y="776.5" font-size="25" text-anchor="middle">6.2</text>
<text x="911.8" y="776.5" font-size="25" text-anchor="middle">6.4</text>
<text x="1147.2" y="776.5" font-size="25" text-anchor="middle">6.6</text>
<text x="70.7" y="121.9" font-size="25" text-anchor="end">2.0</text>
<text x="70.7" y="240.9" font-size="25" text-anchor="end">1.8</text>
<text x="70.7" y="361.6" font-size="25" text-anchor="end">1.6</text>
<text x="70.7" y="482.6" font-size="25" text-anchor="end">1.4</text>
<text x="70.7" y="603.8" font-size="25" text-anchor="end">1.2</text>
<text x="70.7" y="725.1" font-size="25" text-anchor="end">1.0</text>
<text x="716.0" y="808.1" font-size="27" text-anchor="middle">Entropy</text>
<text transform="translate(22.3 374.5) rotate(-90)" font-size="26.2" text-anchor="middle">MDD</text>
</g></svg></body></html>
